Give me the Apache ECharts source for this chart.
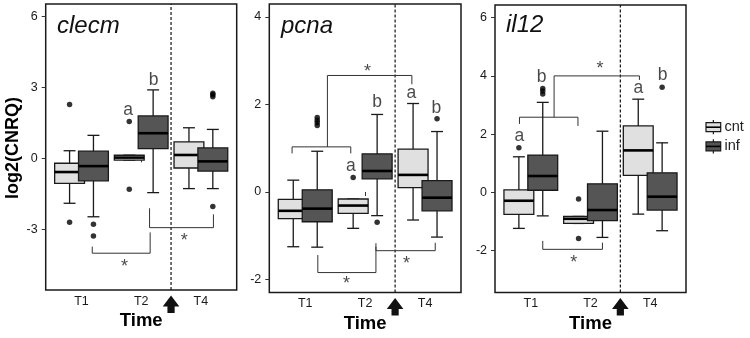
<!DOCTYPE html>
<html><head><meta charset="utf-8">
<script src="https://cdn.jsdelivr.net/npm/echarts@6/dist/echarts.min.js"></script>
<style>html,body{margin:0;padding:0;background:#fff}#c{width:750px;height:338px}</style>
</head><body><div id="c"></div>
<script>
// ---------- data ----------
const categories = ['T1', 'T2', 'T4'];
const groups = ['cnt', 'inf'];
const genes = ['clecm', 'pcna', 'il12'];

// [lower whisker, Q1, median, Q3, upper whisker] per category
const clecmCnt = [[-1.90, -1.06, -0.58, -0.21, 0.32], [-0.08, -0.08, 0.03, 0.13, 0.13], [-1.28, -0.41, 0.14, 0.69, 1.29]];
const clecmInf = [[-2.47, -0.95, -0.33, 0.30, 0.97], [-1.45, 0.41, 1.06, 1.79, 2.89], [-1.28, -0.54, -0.13, 0.44, 1.22]];
const clecmCntOut = [[2.27, -2.70], [1.55, -1.31], []];
const clecmInfOut = [[-2.79, -3.28], [], [2.60, 2.68, 2.75, -2.04]];

const pcnaCnt = [[-1.25, -0.61, -0.43, -0.17, 0.27], [-0.83, -0.49, -0.31, -0.16, -0.16], [-0.64, 0.10, 0.39, 0.98, 2.02]];
const pcnaInf = [[-1.26, -0.68, -0.38, 0.05, 0.93], [-0.54, 0.30, 0.48, 0.87, 1.77], [-1.03, -0.43, -0.13, 0.26, 1.38]];
const pcnaCntOut = [[], [0.33], []];
const pcnaInfOut = [[1.52, 1.58, 1.64, 1.70], [-0.69], [1.67]];

const il12Cnt = [[-1.24, -0.76, -0.29, 0.08, 1.22], [-1.07, -1.07, -0.91, -0.83, -0.83], [-0.75, 0.58, 1.44, 2.28, 3.20]];
const il12Inf = [[-0.81, 0.07, 0.56, 1.28, 3.09], [-1.55, -0.97, -0.61, 0.29, 2.10], [-1.32, -0.61, -0.15, 0.67, 1.70]];
const il12CntOut = [[1.53], [-0.23, -1.59], []];
const il12InfOut = [[3.38, 3.48, 3.57], [], [3.61]];

// y tick labels per panel
const clecmTicks = [-3, 0, 3, 6];
const pcnaTicks = [-2, 0, 2, 4];
const il12Ticks = [-2, 0, 2, 4, 6];

// annotations (in data coordinates)
const clecmBrackets = [
  [[1.18, -3.73], [1.18, -4.01], [2.15, -4.01], [2.15, -3.13]],
  [[2.14, -2.11], [2.14, -2.93], [3.21, -2.93], [3.21, -2.37]]
];
const clecmMarks = [['a', 1.78, 2.05], ['b', 2.21, 3.31], ['*', 1.72, -4.41], ['*', 2.72, -3.31]];

const pcnaBrackets = [
  [[0.78, 0.88], [0.78, 1.03], [1.76, 1.03], [1.76, 0.88]],
  [[1.37, 1.03], [1.37, 2.66], [2.78, 2.66], [2.78, 2.46]],
  [[1.21, -1.44], [1.21, -1.84], [2.18, -1.84], [2.18, -1.25]],
  [[2.18, -1.17], [2.18, -1.34], [3.17, -1.34], [3.17, -1.16]]
];
const pcnaMarks = [['*', 2.04, 2.82], ['a', 1.76, 0.59], ['b', 2.20, 2.04], ['a', 2.77, 2.25], ['b', 3.19, 1.92], ['*', 1.69, -2.01], ['*', 2.69, -1.55]];

const il12Brackets = [
  [[0.81, 2.35], [0.81, 2.58], [1.79, 2.58], [1.79, 2.28]],
  [[1.39, 2.58], [1.39, 4.00], [2.82, 4.00], [2.82, 3.86]],
  [[1.20, -1.67], [1.20, -1.96], [2.20, -1.96], [2.20, -1.73]]
];
const il12Marks = [['*', 2.16, 4.37], ['a', 0.81, 1.93], ['b', 1.18, 3.94], ['a', 2.80, 3.57], ['b', 3.21, 4.03], ['*', 1.72, -2.29]];

const infectionTime = 2.5; // dashed line between T2 and T4

// ---------- layout / style ----------
const FONT = "'Liberation Sans', Arial, Helvetica, sans-serif";
const CNT_FILL = '#e0e0e0', INF_FILL = '#555555', EDGE = '#1a1a1a';
const DODGE = 0.2, BOX_HALF = 0.25, CAP_HALF = 0.1;

const panels = [
  { gene: genes[0], cnt: clecmCnt, inf: clecmInf, cntOut: clecmCntOut, infOut: clecmInfOut, ticks: clecmTicks,
    brackets: clecmBrackets, marks: clecmMarks, yMin: -5.564, yMax: 6.519,
    grid: { left: 45.7, top: 4, width: 191, height: 286 } },
  { gene: genes[1], cnt: pcnaCnt, inf: pcnaInf, cntOut: pcnaCntOut, infOut: pcnaInfOut, ticks: pcnaTicks,
    brackets: pcnaBrackets, marks: pcnaMarks, yMin: -2.295, yMax: 4.292,
    grid: { left: 269.3, top: 4, width: 191.7, height: 288.5 } },
  { gene: genes[2], cnt: il12Cnt, inf: il12Inf, cntOut: il12CntOut, infOut: il12InfOut, ticks: il12Ticks,
    brackets: il12Brackets, marks: il12Marks, yMin: -3.443, yMax: 6.436,
    grid: { left: 495, top: 5, width: 191, height: 287.5 } }
];

function boxRenderer(fill) {
  return function (params, api) {
    const x = api.value(0);
    const lo = api.value(1), q1 = api.value(2), med = api.value(3), q3 = api.value(4), hi = api.value(5);
    const tl = api.coord([x - BOX_HALF, q3]);
    const br = api.coord([x + BOX_HALF, q1]);
    const pHi = api.coord([x, hi]), pQ3 = api.coord([x, q3]), pQ1 = api.coord([x, q1]), pLo = api.coord([x, lo]);
    const capL = api.coord([x - CAP_HALF, hi]), capR = api.coord([x + CAP_HALF, hi]);
    const capLl = api.coord([x - CAP_HALF, lo]), capRl = api.coord([x + CAP_HALF, lo]);
    const mL = api.coord([x - BOX_HALF, med]), mR = api.coord([x + BOX_HALF, med]);
    const ls = { stroke: EDGE, lineWidth: 1.3 };
    return {
      type: 'group',
      children: [
        { type: 'line', shape: { x1: pHi[0], y1: pHi[1], x2: pQ3[0], y2: pQ3[1] }, style: ls },
        { type: 'line', shape: { x1: pQ1[0], y1: pQ1[1], x2: pLo[0], y2: pLo[1] }, style: ls },
        { type: 'line', shape: { x1: capL[0], y1: capL[1], x2: capR[0], y2: capR[1] }, style: ls },
        { type: 'line', shape: { x1: capLl[0], y1: capLl[1], x2: capRl[0], y2: capRl[1] }, style: ls },
        { type: 'rect', shape: { x: tl[0], y: tl[1], width: br[0] - tl[0], height: br[1] - tl[1] },
          style: { fill: fill, stroke: EDGE, lineWidth: 1.3 } },
        { type: 'line', shape: { x1: mL[0], y1: mL[1], x2: mR[0], y2: mR[1] }, style: { stroke: '#000', lineWidth: 2.6 } }
      ]
    };
  };
}

const option = {
  animation: false,
  backgroundColor: '#fff',
  grid: [], xAxis: [], yAxis: [], series: []
};

panels.forEach((p, i) => {
  option.grid.push(Object.assign({ show: true, borderColor: EDGE, borderWidth: 1.5, backgroundColor: '#fff', containLabel: false }, p.grid));
  option.xAxis.push({
    type: 'value', gridIndex: i, min: 0.4, max: 3.6,
    axisLine: { show: false }, splitLine: { show: false },
    axisTick: { show: true, customValues: [1, 2, 3], length: 4, lineStyle: { color: '#333', width: 1 } },
    axisLabel: { customValues: [1, 2, 3], formatter: v => categories[Math.round(v) - 1] || '',
      fontFamily: FONT, fontSize: 12.5, color: '#1a1a1a', margin: 5 }
  });
  option.yAxis.push({
    type: 'value', gridIndex: i, min: p.yMin, max: p.yMax,
    axisLine: { show: false }, splitLine: { show: false },
    axisTick: { show: true, customValues: p.ticks, length: 4, lineStyle: { color: '#333', width: 1 } },
    axisLabel: { customValues: p.ticks, formatter: v => String(Math.round(v)),
      fontFamily: FONT, fontSize: 12.5, color: '#1a1a1a', margin: 8 }
  });
  const ax = { xAxisIndex: i, yAxisIndex: i };
  // dashed infection line
  option.series.push(Object.assign({
    type: 'line', data: [[infectionTime, p.yMin], [infectionTime, p.yMax]], symbol: 'none', silent: true,
    lineStyle: { color: '#111', width: 1.2, type: [3, 2] }, z: 1
  }, ax));
  [['cnt', CNT_FILL, p.cnt, -DODGE], ['inf', INF_FILL, p.inf, DODGE]].forEach(([g, fill, vals, off]) => {
    option.series.push(Object.assign({
      type: 'custom', name: g, renderItem: boxRenderer(fill), clip: false, z: 3,
      encode: { x: 0, y: [1, 2, 3, 4, 5] },
      data: vals.map((v, k) => [k + 1 + off].concat(v))
    }, ax));
  });
  [[p.cntOut, -DODGE], [p.infOut, DODGE]].forEach(([outs, off]) => {
    const pts = [];
    outs.forEach((arr, k) => arr.forEach(v => pts.push([k + 1 + off, v])));
    option.series.push(Object.assign({
      type: 'scatter', data: pts, symbol: 'circle', symbolSize: 5.5, silent: true,
      itemStyle: { color: '#000' }, z: 4
    }, ax));
  });
  p.brackets.forEach(b => {
    option.series.push(Object.assign({
      type: 'line', data: b, symbol: 'none', silent: true,
      lineStyle: { color: '#333', width: 1 }, z: 2
    }, ax));
  });
  option.series.push(Object.assign({
    type: 'scatter', symbolSize: 0, silent: true, z: 5,
    data: p.marks.map(m => ({
      value: [m[1], m[2]],
      label: {
        show: true, position: 'inside', formatter: m[0],
        fontFamily: FONT, fontSize: m[0] === '*' ? 18 : 17.5, color: '#1a1a1a',
        offset: m[0] === '*' ? [0, 4] : [0, 0]
      }
    }))
  }, ax));
});

const chart = echarts.init(document.getElementById('c'), null, { renderer: 'canvas' });
chart.setOption(option);

// ---------- graphic annotations ----------
const graphic = [];
const geneLabelPos = [[57, 26], [281, 26], [506, 25.5]];
panels.forEach((p, i) => {
  graphic.push({
    type: 'text', x: geneLabelPos[i][0], y: geneLabelPos[i][1],
    style: { text: p.gene, font: 'italic 24px ' + FONT, fill: '#111', verticalAlign: 'middle', align: 'left' }
  });
  const g = p.grid;
  const bottom = g.top + g.height;
  graphic.push({
    type: 'text', x: g.left + g.width / 2, y: bottom + 31,
    style: { text: 'Time', font: 'bold 18.5px ' + FONT, fill: '#000', align: 'center', verticalAlign: 'middle' }
  });
  const px = chart.convertToPixel({ gridIndex: i }, [infectionTime, p.yMin]);
  const cx = px[0], t = px[1] + 5.5;
  graphic.push({
    type: 'polygon',
    shape: { points: [[cx, t], [cx - 8.3, t + 11], [cx - 3.6, t + 11], [cx - 3.6, t + 17.5], [cx + 3.6, t + 17.5], [cx + 3.6, t + 11], [cx + 8.3, t + 11]] },
    style: { fill: '#111' }
  });
});
graphic.push({
  type: 'text', x: 13, y: 148, rotation: Math.PI / 2,
  style: { text: 'log2(CNRQ)', font: 'bold 18px ' + FONT, fill: '#000', align: 'center', verticalAlign: 'middle' }
});
// legend
[[groups[0], CNT_FILL, 122.7], [groups[1], INF_FILL, 141.9]].forEach(([name, fill, y0]) => {
  const x0 = 706, w = 14.7, h = 9, cx = x0 + w / 2;
  graphic.push({ type: 'line', shape: { x1: cx, y1: y0 - 2.7, x2: cx, y2: y0 + h + 2.5 }, style: { stroke: EDGE, lineWidth: 1.2 } });
  graphic.push({ type: 'rect', shape: { x: x0, y: y0, width: w, height: h }, style: { fill: fill, stroke: EDGE, lineWidth: 1.2 } });
  graphic.push({ type: 'line', shape: { x1: x0, y1: y0 + h / 2, x2: x0 + w, y2: y0 + h / 2 }, style: { stroke: '#000', lineWidth: 1.6 } });
  graphic.push({ type: 'text', x: 724.5, y: y0 + h / 2, style: { text: name, font: '14.5px ' + FONT, fill: '#222', align: 'left', verticalAlign: 'middle' } });
});
chart.setOption({ graphic: graphic });
</script>
</body></html>
